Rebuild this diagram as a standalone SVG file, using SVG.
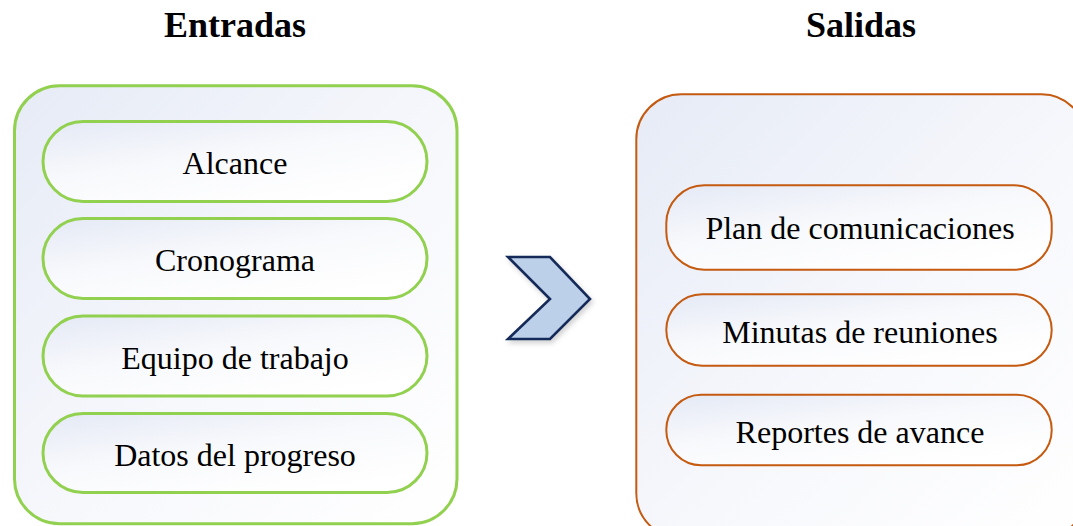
<svg xmlns="http://www.w3.org/2000/svg" width="1073" height="526" viewBox="0 0 1073 526">
  <defs>
    <linearGradient id="bg" x1="0" y1="0" x2="1" y2="1">
      <stop offset="0" stop-color="#E6EBF6"/>
      <stop offset="0.55" stop-color="#F7F8FC"/>
      <stop offset="1" stop-color="#FFFFFF"/>
    </linearGradient>
    <linearGradient id="pill" x1="0" y1="0" x2="0.7" y2="1">
      <stop offset="0" stop-color="#E4E9F5"/>
      <stop offset="0.5" stop-color="#F8F9FC"/>
      <stop offset="1" stop-color="#FFFFFF"/>
    </linearGradient>
    <filter id="sh" x="-20%" y="-20%" width="150%" height="150%">
      <feDropShadow dx="2" dy="3" stdDeviation="2.5" flood-color="#000" flood-opacity="0.18"/>
    </filter>
    <style>
      .title { font-family: "Liberation Serif", "Times New Roman", serif; font-weight: bold; font-size: 36px; fill: #000; text-anchor: middle; }
      .lbl { font-family: "Liberation Serif", "Times New Roman", serif; font-size: 32px; fill: #000; text-anchor: middle; }
      .gOuter { fill: url(#bg); stroke: #92D050; stroke-width: 3; }
      .gPill { fill: url(#pill); stroke: #92D050; stroke-width: 3; }
      .oOuter { fill: url(#bg); stroke: #C55A11; stroke-width: 2; }
      .oPill { fill: url(#pill); stroke: #C55A11; stroke-width: 2; }
    </style>
  </defs>

  <text class="title" x="235" y="37">Entradas</text>
  <text class="title" x="861" y="37">Salidas</text>

  <g id="entradas">
    <rect class="gOuter" x="14.5" y="85.7" width="442.5" height="438" rx="45" ry="45"/>
  </g>
  <g id="alcance">
    <rect class="gPill" x="43" y="121.5" width="384" height="80" rx="40" ry="40"/>
    <text class="lbl" x="235" y="174">Alcance</text>
  </g>
  <g id="cronograma">
    <rect class="gPill" x="43" y="218.5" width="384" height="80" rx="40" ry="40"/>
    <text class="lbl" x="235" y="271">Cronograma</text>
  </g>
  <g id="equipo">
    <rect class="gPill" x="43" y="316" width="384" height="80" rx="40" ry="40"/>
    <text class="lbl" x="235" y="369">Equipo de trabajo</text>
  </g>
  <g id="datos">
    <rect class="gPill" x="43" y="413.5" width="384" height="79" rx="40" ry="40"/>
    <text class="lbl" x="235" y="466">Datos del progreso</text>
  </g>

  <g id="salidas">
    <rect class="oOuter" x="636.3" y="94.3" width="450" height="444" rx="45" ry="45"/>
  </g>
  <g id="plan">
    <rect class="oPill" x="666.3" y="185.3" width="385.4" height="84.4" rx="38" ry="38"/>
    <text class="lbl" x="860" y="239">Plan de comunicaciones</text>
  </g>
  <g id="minutas">
    <rect class="oPill" x="666.3" y="294.3" width="385.4" height="71.4" rx="36" ry="36"/>
    <text class="lbl" x="860" y="343">Minutas de reuniones</text>
  </g>
  <g id="reportes">
    <rect class="oPill" x="666.3" y="394.7" width="385.4" height="70.6" rx="35" ry="35"/>
    <text class="lbl" x="860" y="443">Reportes de avance</text>
  </g>

  <g id="connectors">
    <path d="M508,257 L550,257 L590,299 L550,339 L508,339 L550,299 Z" fill="#BDD0EA" stroke="#172C5A" stroke-width="2.6" stroke-linejoin="miter" filter="url(#sh)"/>
  </g>
</svg>
